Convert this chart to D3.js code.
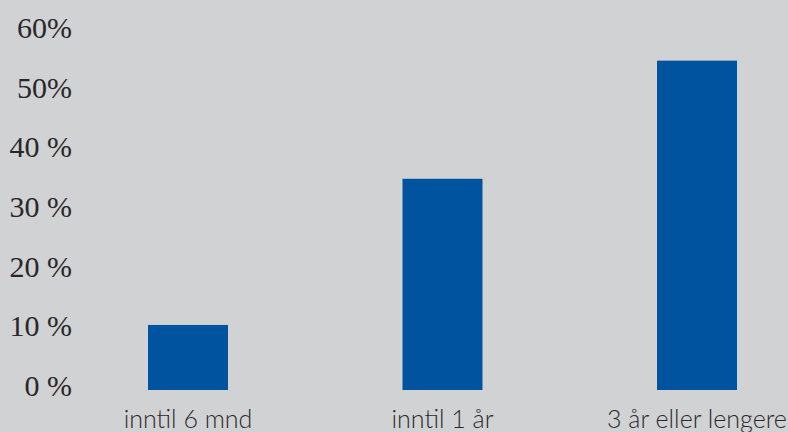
<!DOCTYPE html>
<html>
<head>
<meta charset="utf-8">
<script src="https://cdn.jsdelivr.net/npm/d3@7/dist/d3.min.js"></script>
<style>
  html, body { margin: 0; padding: 0; background: #d1d2d4; }
  svg { display: block; }
</style>
</head>
<body>
<svg id="chart" width="788" height="432"></svg>
<script>
// Andel fordelt på varighet
const categories = ["inntil 6 mnd", "inntil 1 år", "3 år eller lengere"];
const values = [10.9, 35.4, 55.2];
const tickValues = [0, 10, 20, 30, 40, 50, 60];
const tickLabels = ["0 %", "10 %", "20 %", "30 %", "40 %", "50%", "60%"];

const svg = d3.select("#chart");
const W = 788, H = 432;

svg.append("rect").attr("width", W).attr("height", H).attr("fill", "#d1d2d4");

const y = d3.scaleLinear().domain([0, 60]).range([390, 32]);
const x = d3.scaleBand()
  .domain(categories)
  .range([148, 737])
  .paddingInner(0.6857)
  .paddingOuter(0);

// Y-axis labels (no axis line or gridlines)
svg.append("g")
  .selectAll("text")
  .data(tickValues)
  .join("text")
  .attr("x", 72)
  .attr("y", d => y(d) + 6)
  .attr("text-anchor", "end")
  .attr("font-family", "'Liberation Serif', 'Times New Roman', serif")
  .attr("font-size", 30)
  .attr("fill", "#2a2728")
  .text((d, i) => tickLabels[i]);

// Bars
svg.append("g")
  .selectAll("rect")
  .data(values)
  .join("rect")
  .attr("x", (d, i) => x(categories[i]))
  .attr("y", d => y(d))
  .attr("width", x.bandwidth())
  .attr("height", d => y(0) - y(d))
  .attr("fill", "#00539f");

// Category labels
svg.append("g")
  .selectAll("text")
  .data(categories)
  .join("text")
  .attr("x", d => x(d) + x.bandwidth() / 2)
  .attr("y", 428)
  .attr("text-anchor", "middle")
  .attr("font-family", "Lato, 'Open Sans', sans-serif")
  .attr("font-weight", 300)
  .attr("font-size", 25)
  .attr("fill", "#2b2a2a")
  .text(d => d);
</script>
</body>
</html>
